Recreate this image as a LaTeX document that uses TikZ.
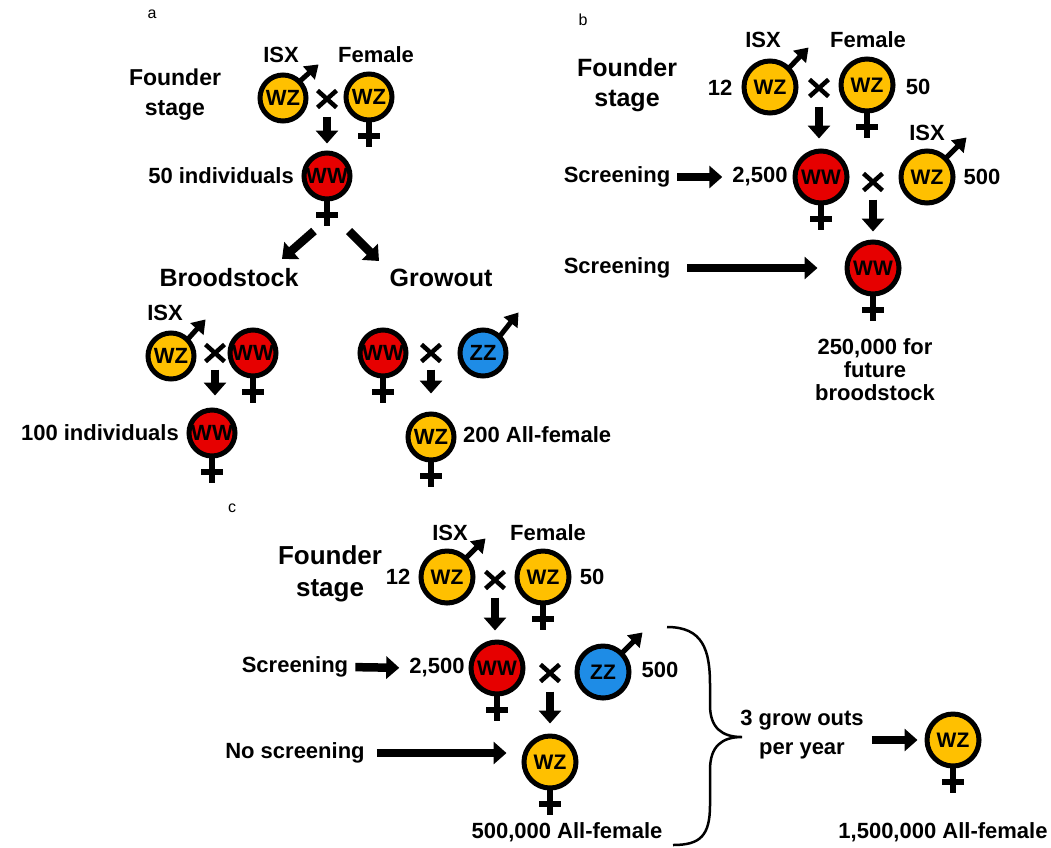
\documentclass[tikz,border=0pt]{standalone}
\usepackage{fontspec}
\setmainfont{Liberation Sans}
\usetikzlibrary{arrows.meta,calc}
\definecolor{gold}{HTML}{FFC000}
\definecolor{rd}{HTML}{E60000}
\definecolor{bl}{HTML}{1E8CE6}
\tikzset{
 gc/.style={circle, draw=black, line width=5pt, inner sep=0pt, text=black},
 gca/.style={gc, minimum size=46pt, font=\fontsize{22}{22}\selectfont\bfseries},
 gcb/.style={gc, minimum size=52pt, font=\fontsize{21}{21}\selectfont\bfseries},
 sexline/.style={line width=6pt},
 malearr/.style={line width=5pt, -{Triangle[width=17pt,length=13pt]}},
 blk/.style={line width=8.5pt, -{Triangle[width=22pt,length=13pt]}},
 xnode/.style={inner sep=0pt, outer sep=0pt, minimum width=19pt, minimum height=17pt},
 xline/.style={line width=4.5pt},
 lab/.style={inner sep=0pt, font=\fontsize{22}{26}\selectfont\bfseries},
 biglab/.style={inner sep=0pt, align=center, font=\fontsize{25}{30}\selectfont\bfseries},
 panellab/.style={inner sep=0pt, font=\fontsize{16}{16}\selectfont},
 bracestyle/.style={line width=2.5pt},
}
\newcommand\fem[5]{%
 \node[#1, fill=#4] (#2) at (#3) {#5};
 \draw[sexline] ([yshift=2pt]#2.south) -- ++(0,26);
 \draw[sexline] ([yshift=-13pt]#2.south) ++(-11,0) -- ++(22,0);
}
\newcommand\male[6]{%
 \node[#1, fill=#4] (#2) at (#3) {#5};
 \draw[malearr] ($(#2.45)!0.08!(#2.center)$) -- ++(#6);
}
\newcommand\xmark[2]{%
 \node[xnode] (#1) at (#2) {};
 \draw[xline] (#1.north west) -- (#1.south east) (#1.north east) -- (#1.south west);
}
\begin{document}
\begin{tikzpicture}[x=1pt,y=-1pt]
\useasboundingbox (0,0) rectangle (1051,847);
% ---------------- panel a
\node[panellab] (la) at (152,14) {a};
\node[biglab, font=\fontsize{23}{30}\selectfont\bfseries] (fsA) at (175,95) {Founder\\stage};
\node[lab] (isxA1) at (281,55) {ISX};
\node[lab] (femA1) at (376,55) {Female};
\male{gca}{mA1}{283,98}{gold}{WZ}{19,-17}
\xmark{xA1}{327,99}
\fem{gca}{fA1}{369,97}{gold}{WZ}
\fem{gca}{fA2}{327,176}{rd}{WW}
\draw[blk, shorten <=9pt, shorten >=7pt] (xA1.south) -- (xA1.south |- fA2.north);
\node[lab, anchor=east] (n50) at (294,176) {50 individuals};
\coordinate (dL1) at (314,231); \coordinate (dL2) at (282,259);
\coordinate (dR1) at (349,231); \coordinate (dR2) at (379,261);
\draw[blk] (dL1) -- (dL2);
\draw[blk] (dR1) -- (dR2);
\node[biglab] (brood) at (229,278) {Broodstock};
\node[biglab] (grow) at (441,278) {Growout};
\node[lab] (isxA2) at (165,313) {ISX};
\male{gca}{mA2}{171,356}{gold}{WZ}{18,-20}
\xmark{xA2}{215,353}
\fem{gca}{fA3}{253,353}{rd}{WW}
\fem{gca}{fA4}{212,433}{rd}{WW}
\draw[blk, shorten <=8pt, shorten >=12pt] (xA2.south) -- (xA2.south |- fA4.north);
\node[lab, anchor=east] (n100) at (179,433) {100 individuals};
\fem{gca}{fA5}{383,353}{rd}{WW}
\xmark{xA3}{431,353}
\male{gca}{mA3}{483,353}{bl}{ZZ}{19,-24}
\fem{gca}{fA6}{431,437}{gold}{WZ}
\draw[blk, shorten <=8pt, shorten >=18pt] (xA3.south) -- (xA3.south |- fA6.north);
\node[lab, anchor=west] (n200) at (463,435) {200 All-female};
% ---------------- panel b
\node[panellab] (lb) at (583,20) {b};
\node[biglab] (fsB) at (627,85) {Founder\\stage};
\node[lab] (isxB1) at (763,40) {ISX};
\node[lab] (femB1) at (868,40) {Female};
\node[lab] (n12B) at (720,88) {12};
\male{gcb}{mB1}{770,87}{gold}{WZ}{20,-21}
\xmark{xB1}{819,88}
\fem{gcb}{fB1}{867,85}{gold}{WZ}
\node[lab] (n50B) at (918,87) {50};
\node[lab] (scrB1) at (617,177) {Screening};
\node[lab] (n2500B) at (760,177) {2,500};
\fem{gcb}{fB2}{821,177}{rd}{WW}
\draw[blk, shorten <=10pt, shorten >=10pt] (xB1.south) -- (xB1.south |- fB2.north);
\draw[blk, shorten <=7pt, shorten >=10pt] (scrB1.east) -- (n2500B.west);
\xmark{xB2}{873,182}
\node[lab] (isxB2) at (927,133) {ISX};
\male{gcb}{mB2}{927,177}{gold}{WZ}{21,-21}
\node[lab] (n500B) at (982,177) {500};
\fem{gcb}{fB3}{873,268}{rd}{WW}
\draw[blk, shorten <=9pt, shorten >=8pt] (xB2.south) -- (xB2.south |- fB3.north);
\node[lab] (scrB2) at (617,268) {Screening};
\draw[blk, shorten <=17pt, shorten >=27pt] (scrB2.east) -- (fB3.west);
\node[lab, align=center, font=\fontsize{22}{23}\selectfont\bfseries] (n250k) at (875,370) {250,000 for\\future\\broodstock};
% ---------------- panel c
\node[panellab] (lc) at (232,508) {c};
\node[biglab, font=\fontsize{26}{32}\selectfont\bfseries] (fsC) at (330,574) {Founder\\stage};
\node[lab] (isxC1) at (450,533) {ISX};
\node[lab] (femC1) at (548,533) {Female};
\node[lab] (n12C) at (398,577) {12};
\male{gcb}{mC1}{447,577}{gold}{WZ}{20,-20}
\xmark{xC1}{495,580}
\fem{gcb}{fC1}{543,577}{gold}{WZ}
\node[lab] (n50C) at (592,577) {50};
\node[lab] (scrC) at (295,667) {Screening};
\node[lab] (n2500C) at (437,668) {2,500};
\fem{gcb}{fC2}{497,668}{rd}{WW}
\draw[blk, shorten <=9pt, shorten >=9pt] (xC1.south) -- (xC1.south |- fC2.north);
\draw[blk, shorten <=7pt, shorten >=10pt] (scrC.east) -- (n2500C.west);
\xmark{xC2}{550,673}
\male{gcb}{mC2}{603,672}{bl}{ZZ}{21,-21}
\node[lab] (n500C) at (660,670) {500};
\fem{gcb}{fC3}{550,762}{gold}{WZ}
\draw[blk, shorten <=10pt, shorten >=10pt] (xC2.south) -- (xC2.south |- fC3.north);
\node[lab] (noscr) at (295,753) {No screening};
\draw[blk, shorten <=12pt, shorten >=15pt] (noscr.east) -- (noscr.east -| fC3.west);
\node[lab] (n500k) at (567,832) {500,000 All-female};
\draw[bracestyle] (667,627) .. controls (703,627) and (710,650) .. (710,685) -- (710,705)
  .. controls (710,728) and (722,737) .. (742,737)
  .. controls (722,737) and (710,746) .. (710,770) -- (710,805)
  .. controls (710,836) and (700,845) .. (673,845);
\node[lab, align=center, font=\fontsize{22}{29}\selectfont\bfseries] (grow3) at (802,735) {3 grow outs\\per year};
\fem{gcb}{fC4}{953,740}{gold}{WZ}
\draw[blk, shorten <=8pt, shorten >=7pt] (grow3.east |- fC4.west) -- (fC4.west);
\node[lab] (n15m) at (943,832) {1,500,000 All-female};
\end{tikzpicture}
\end{document}
